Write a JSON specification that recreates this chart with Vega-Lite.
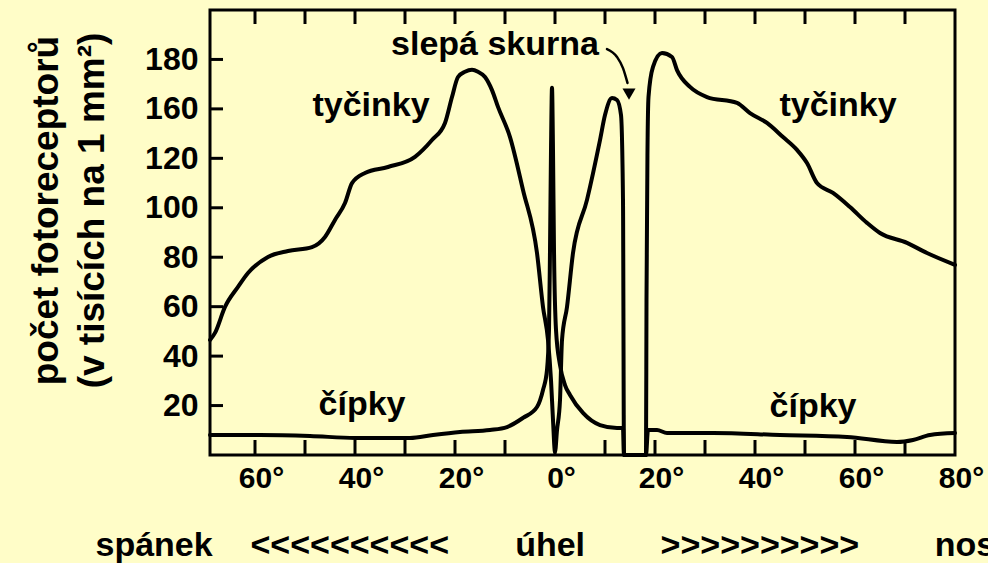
{
  "$schema": "https://vega.github.io/schema/vega-lite/v6.json",
  "autosize": {"type": "none"},
  "padding": {"left": 210, "top": 10, "right": 33, "bottom": 108},
  "width": 745,
  "height": 445,
  "background": "#fffdc8",
  "config": {
    "view": {"stroke": "black", "strokeWidth": 3},
    "font": "Liberation Sans"
  },
  "datasets": {
    "curves": [
      {"series": "tyčinky", "deg": -69, "val": 46.5},
      {"series": "tyčinky", "deg": -68, "val": 49.4},
      {"series": "tyčinky", "deg": -66, "val": 59.9},
      {"series": "tyčinky", "deg": -63.4, "val": 68.0},
      {"series": "tyčinky", "deg": -61.4, "val": 73.6},
      {"series": "tyčinky", "deg": -57.4, "val": 80.1},
      {"series": "tyčinky", "deg": -53.4, "val": 82.5},
      {"series": "tyčinky", "deg": -48.6, "val": 84.1},
      {"series": "tyčinky", "deg": -46, "val": 88.2},
      {"series": "tyčinky", "deg": -44, "val": 95.1},
      {"series": "tyčinky", "deg": -42, "val": 101.9},
      {"series": "tyčinky", "deg": -40.6, "val": 110.0},
      {"series": "tyčinky", "deg": -38, "val": 114.1},
      {"series": "tyčinky", "deg": -33.4, "val": 116.5},
      {"series": "tyčinky", "deg": -28, "val": 120.6},
      {"series": "tyčinky", "deg": -24.6, "val": 127.4},
      {"series": "tyčinky", "deg": -22, "val": 134.3},
      {"series": "tyčinky", "deg": -20.6, "val": 144.8},
      {"series": "tyčinky", "deg": -19.4, "val": 152.9},
      {"series": "tyčinky", "deg": -18, "val": 155.0},
      {"series": "tyčinky", "deg": -16.6, "val": 155.8},
      {"series": "tyčinky", "deg": -15.4, "val": 155.0},
      {"series": "tyčinky", "deg": -14, "val": 152.9},
      {"series": "tyčinky", "deg": -12.6, "val": 147.6},
      {"series": "tyčinky", "deg": -11.4, "val": 140.8},
      {"series": "tyčinky", "deg": -9, "val": 128.6},
      {"series": "tyčinky", "deg": -6.4, "val": 107.2},
      {"series": "tyčinky", "deg": -3.6, "val": 81.7},
      {"series": "tyčinky", "deg": -2.4, "val": 59.9},
      {"series": "tyčinky", "deg": -1.4, "val": 46.5},
      {"series": "tyčinky", "deg": -0.8, "val": 30.3},
      {"series": "tyčinky", "deg": -0.4, "val": 14.2},
      {"series": "tyčinky", "deg": 0, "val": 1.2},
      {"series": "tyčinky", "deg": 0.4, "val": 10},
      {"series": "tyčinky", "deg": 1.0, "val": 22.2},
      {"series": "tyčinky", "deg": 1.4, "val": 46.5},
      {"series": "tyčinky", "deg": 2.4, "val": 59.9},
      {"series": "tyčinky", "deg": 3.6, "val": 81.7},
      {"series": "tyčinky", "deg": 6.4, "val": 103.2},
      {"series": "tyčinky", "deg": 9, "val": 127.4},
      {"series": "tyčinky", "deg": 10, "val": 137.5},
      {"series": "tyčinky", "deg": 11.4, "val": 144.4},
      {"series": "tyčinky", "deg": 12.4, "val": 143.6},
      {"series": "tyčinky", "deg": 13.2, "val": 137.5},
      {"series": "tyčinky", "deg": 13.6, "val": 103},
      {"series": "tyčinky", "deg": 13.8, "val": 0},
      {"series": "tyčinky", "deg": 18.2, "val": 0},
      {"series": "tyčinky", "deg": 18.3, "val": 62.7},
      {"series": "tyčinky", "deg": 18.5, "val": 123.4},
      {"series": "tyčinky", "deg": 18.7, "val": 144.8},
      {"series": "tyčinky", "deg": 19.6, "val": 157},
      {"series": "tyčinky", "deg": 21.4, "val": 162.6},
      {"series": "tyčinky", "deg": 23.4, "val": 161},
      {"series": "tyčinky", "deg": 24.4, "val": 155.7},
      {"series": "tyčinky", "deg": 27, "val": 148.9},
      {"series": "tyčinky", "deg": 30.4, "val": 144.8},
      {"series": "tyčinky", "deg": 36.4, "val": 142.4},
      {"series": "tyčinky", "deg": 39, "val": 138.3},
      {"series": "tyčinky", "deg": 42.4, "val": 134.3},
      {"series": "tyčinky", "deg": 45.6, "val": 128.6},
      {"series": "tyčinky", "deg": 48.4, "val": 123.4},
      {"series": "tyčinky", "deg": 50.4, "val": 118.1},
      {"series": "tyčinky", "deg": 52.4, "val": 110},
      {"series": "tyčinky", "deg": 55.6, "val": 106},
      {"series": "tyčinky", "deg": 59, "val": 100.3},
      {"series": "tyčinky", "deg": 62.4, "val": 93.9},
      {"series": "tyčinky", "deg": 65, "val": 89.8},
      {"series": "tyčinky", "deg": 70.4, "val": 85.8},
      {"series": "tyčinky", "deg": 74.4, "val": 81.7},
      {"series": "tyčinky", "deg": 80, "val": 76.9},
      {"series": "čípky", "deg": -69, "val": 8.1},
      {"series": "čípky", "deg": -59, "val": 8.1},
      {"series": "čípky", "deg": -49, "val": 7.7},
      {"series": "čípky", "deg": -40, "val": 6.9},
      {"series": "čípky", "deg": -29, "val": 6.9},
      {"series": "čípky", "deg": -24.4, "val": 8.1},
      {"series": "čípky", "deg": -19, "val": 9.3},
      {"series": "čípky", "deg": -13, "val": 10.1},
      {"series": "čípky", "deg": -9.6, "val": 11.3},
      {"series": "čípky", "deg": -6.4, "val": 15.0},
      {"series": "čípky", "deg": -3.6, "val": 19.4},
      {"series": "čípky", "deg": -2.4, "val": 26.3},
      {"series": "čípky", "deg": -1.6, "val": 34.4},
      {"series": "čípky", "deg": -1.2, "val": 50.6},
      {"series": "čípky", "deg": -1.0, "val": 82.9},
      {"series": "čípky", "deg": -0.8, "val": 123.4},
      {"series": "čípky", "deg": -0.6, "val": 148.5},
      {"series": "čípky", "deg": -0.4, "val": 123.4},
      {"series": "čípky", "deg": -0.2, "val": 82.9},
      {"series": "čípky", "deg": 0.2, "val": 50.6},
      {"series": "čípky", "deg": 1, "val": 36.4},
      {"series": "čípky", "deg": 2, "val": 28.3},
      {"series": "čípky", "deg": 3, "val": 24.3},
      {"series": "čípky", "deg": 5.6, "val": 17},
      {"series": "čípky", "deg": 9, "val": 12.1},
      {"series": "čípky", "deg": 12.4, "val": 10.9},
      {"series": "čípky", "deg": 13.6, "val": 10.9},
      {"series": "čípky", "deg": 13.8, "val": 0},
      {"series": "čípky", "deg": 18.2, "val": 0},
      {"series": "čípky", "deg": 18.6, "val": 10.1},
      {"series": "čípky", "deg": 20.4, "val": 10.1},
      {"series": "čípky", "deg": 22.4, "val": 8.9},
      {"series": "čípky", "deg": 31.6, "val": 8.9},
      {"series": "čípky", "deg": 45, "val": 8.1},
      {"series": "čípky", "deg": 58.4, "val": 7.3},
      {"series": "čípky", "deg": 68.4, "val": 5.3},
      {"series": "čípky", "deg": 71.6, "val": 6.1},
      {"series": "čípky", "deg": 75, "val": 8.1},
      {"series": "čípky", "deg": 80, "val": 8.9}
    ],
    "labels": [
      {"deg": -36.8, "val": 141.2, "label": "tyčinky"},
      {"deg": 56.6, "val": 141.2, "label": "tyčinky"},
      {"deg": -38.6, "val": 20.2, "label": "čípky"},
      {"deg": 51.6, "val": 19.4, "label": "čípky"},
      {"deg": -12, "val": 165.9, "label": "slepá skurna"}
    ],
    "arrow": [
      {"deg": 10.4, "val": 164.2},
      {"deg": 12.4, "val": 161},
      {"deg": 13.6, "val": 156.5},
      {"deg": 14.5, "val": 150.5}
    ],
    "arrowhead": [
      {"deg": 14.8, "val": 146.0}
    ],
    "xticks": [
      {"deg": -60}, {"deg": -50}, {"deg": -40}, {"deg": -30}, {"deg": -20}, {"deg": -10}, {"deg": 0},
      {"deg": 10}, {"deg": 20}, {"deg": 30}, {"deg": 40}, {"deg": 50}, {"deg": 60}, {"deg": 70}
    ],
    "yticks": [
      {"val": 20}, {"val": 40}, {"val": 60}, {"val": 80}, {"val": 100}, {"val": 120}, {"val": 140}, {"val": 160}
    ]
  },
  "resolve": {"axis": {"x": "independent", "y": "independent"}},
  "layer": [
    {
      "data": {"name": "curves"},
      "mark": {"type": "line", "color": "black", "strokeWidth": 4, "interpolate": "monotone", "strokeJoin": "round", "strokeCap": "round"},
      "encoding": {
        "x": {
          "field": "deg", "type": "quantitative",
          "scale": {"domain": [-69, 80], "nice": false, "zero": false},
          "axis": {
            "orient": "bottom",
            "values": [-60, -40, -20, 0, 20, 40, 60, 80],
            "labelExpr": "abs(datum.value) + '°'",
            "grid": false,
            "domain": false,
            "ticks": false,
            "labelFont": "Liberation Sans",
            "labelFontWeight": "bold",
            "labelFontSize": 30,
            "labelColor": "black",
            "labelPadding": 8,
            "labelOffset": 6,
            "labelFlush": false,
            "labelOverlap": false,
            "title": "spánek\u00a0\u00a0\u00a0\u00a0<<<<<<<<<<\u00a0\u00a0\u00a0\u00a0\u00a0\u00a0\u00a0úhel\u00a0\u00a0\u00a0\u00a0\u00a0\u00a0\u00a0\u00a0>>>>>>>>>>\u00a0\u00a0\u00a0\u00a0\u00a0\u00a0\u00a0\u00a0nos",
            "titleX": -115,
            "titleY": 100,
            "titleAlign": "left",
            "titleAnchor": "start",
            "titleBaseline": "alphabetic",
            "titleFont": "Liberation Sans",
            "titleFontWeight": "bold",
            "titleFontSize": 34,
            "titleColor": "black"
          }
        },
        "y": {
          "field": "val", "type": "quantitative",
          "scale": {"domain": [0, 180], "nice": false, "zero": true},
          "axis": {
            "orient": "left",
            "values": [20, 40, 60, 80, 100, 120, 140, 160],
            "labelExpr": "datum.value == 140 ? '160' : datum.value == 160 ? '180' : datum.label",
            "grid": false,
            "domain": false,
            "ticks": false,
            "labelFont": "Liberation Sans",
            "labelFontWeight": "bold",
            "labelFontSize": 32,
            "labelColor": "black",
            "labelPadding": 12,
            "labelFlush": false,
            "labelOverlap": false,
            "title": ["počet fotoreceptorů", "(v tisících na 1 mm²)"],
            "titleX": -164,
            "titleY": 200,
            "titleAngle": -90,
            "titleAlign": "center",
            "titleAnchor": "middle",
            "titleBaseline": "middle",
            "titleLineHeight": 46,
            "titleFont": "Liberation Sans",
            "titleFontWeight": "bold",
            "titleFontSize": 37,
            "titleColor": "black"
          }
        },
        "detail": {"field": "series", "type": "nominal"}
      }
    },
    {
      "data": {"name": "xticks"},
      "mark": {"type": "tick", "orient": "vertical", "size": 28, "thickness": 3, "color": "black", "opacity": 1, "clip": true},
      "encoding": {
        "x": {"field": "deg", "type": "quantitative", "axis": null},
        "y": {"datum": 180, "type": "quantitative", "axis": null}
      }
    },
    {
      "data": {"name": "xticks"},
      "mark": {"type": "tick", "orient": "vertical", "size": 30, "thickness": 3, "color": "black", "opacity": 1, "clip": true},
      "encoding": {
        "x": {"field": "deg", "type": "quantitative", "axis": null},
        "y": {"datum": 0, "type": "quantitative", "axis": null}
      }
    },
    {
      "data": {"name": "yticks"},
      "mark": {"type": "tick", "orient": "horizontal", "size": 26, "thickness": 3, "color": "black", "opacity": 1, "clip": true},
      "encoding": {
        "x": {"datum": -69, "type": "quantitative", "axis": null},
        "y": {"field": "val", "type": "quantitative", "axis": null}
      }
    },
    {
      "data": {"name": "labels"},
      "mark": {"type": "text", "font": "Liberation Sans", "fontWeight": "bold", "fontSize": 34, "color": "black", "align": "center", "baseline": "middle"},
      "encoding": {
        "x": {"field": "deg", "type": "quantitative", "axis": null},
        "y": {"field": "val", "type": "quantitative", "axis": null},
        "text": {"field": "label", "type": "nominal"}
      }
    },
    {
      "data": {"name": "arrow"},
      "mark": {"type": "line", "color": "black", "strokeWidth": 2.5, "interpolate": "monotone", "strokeCap": "round"},
      "encoding": {
        "x": {"field": "deg", "type": "quantitative", "axis": null},
        "y": {"field": "val", "type": "quantitative", "axis": null}
      }
    },
    {
      "data": {"name": "arrowhead"},
      "mark": {"type": "point", "shape": "triangle-down", "filled": true, "color": "black", "size": 170, "opacity": 1},
      "encoding": {
        "x": {"field": "deg", "type": "quantitative", "axis": null},
        "y": {"field": "val", "type": "quantitative", "axis": null}
      }
    }
  ]
}
